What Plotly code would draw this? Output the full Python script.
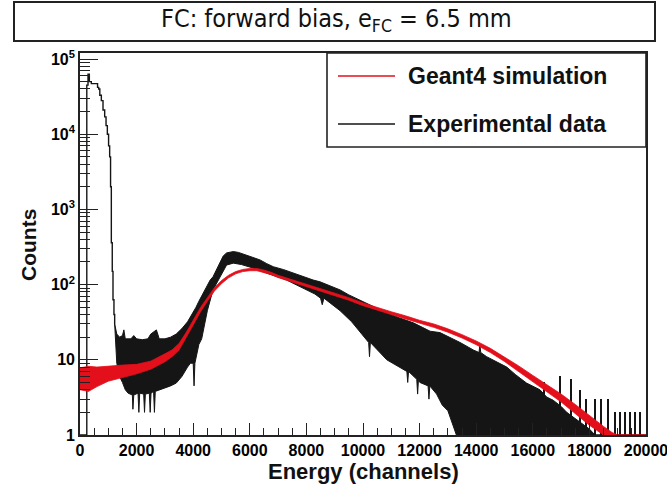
import plotly.graph_objects as go

# ---------------- data ----------------
# Experimental data: low-energy peak (single histogram line)
exp_peak_ch = [0, 200, 240, 283, 330, 400, 577, 620, 660, 700, 754, 813, 872, 920, 966, 1010, 1048, 1080, 1107, 1140, 1166, 1200, 1225]
exp_peak_counts = [1, 1, 45000, 63000, 50000, 47000, 47000, 42000, 40000, 33000, 28000, 21000, 17000, 13000, 10000, 7000, 5000, 2000, 360, 150, 63, 40, 30]

# Experimental data: noisy part, upper envelope
exp_hi_ch = [1225, 1260, 1300, 1400, 1500, 1550, 1600, 1800, 1900, 2000, 2200, 2400, 2500, 2700, 2800, 3000, 3200,
             3400, 3600, 3800, 3900, 4000, 4100, 4200, 4360, 4500, 4600, 4700, 4830, 4950, 5060, 5180, 5420, 5600,
             5890, 6100, 6360, 6600, 6830, 7200, 7540, 7900, 8240, 8480, 8760, 9190, 9500, 9890, 10300, 10840,
             11300, 11780, 12100, 12370, 12720, 13070, 13430, 13900, 14100, 14130, 14160, 14370, 14700, 15080, 15400,
             15780, 16250, 16490, 16720, 17000, 17200, 17670, 18000, 18200, 20000]
exp_hi = [30, 26, 22, 20, 21, 25, 19, 19, 21, 19, 18.5, 19, 22, 25, 19, 19, 20,
          22, 26, 32, 37, 42, 50, 60, 78, 100, 115, 127, 160, 200, 240, 264, 275, 268,
          247, 230, 213, 190, 173, 158, 142, 128, 115, 109, 99, 85, 73, 62, 52, 42,
          36, 31, 27, 24, 23, 20, 17, 13.5, 12.5, 16, 12.5, 11, 9.5, 8, 6.3,
          4.9, 4.0, 3.2, 2.9, 2.4, 2.0, 1.5, 1.2, 1.0, 1.0]

# Experimental data: noisy part, lower envelope
exp_lo_ch = [1225, 1300, 1400, 1500, 1600, 1700, 1850, 1870, 1900, 2050, 2080, 2110, 2250, 2280, 2310, 2450, 2480,
             2510, 2600, 2630, 2660, 2800, 3000, 3200, 3400, 3600, 3800, 3900, 4000, 4030, 4060, 4200, 4300, 4400,
             4500, 4700, 4950, 5180, 5420, 5700, 6120, 6600, 7300, 8000, 8300, 8500, 8560, 8620, 9190, 9600, 9890,
             10200, 10230, 10260, 10840, 11300, 11550, 11580, 11610, 11900, 11930, 11960, 12010, 12300, 12330, 12360,
             12600, 12800, 13000, 13300, 20000]
exp_lo = [30, 9, 6, 5, 4, 3.6, 3.4, 2.2, 3.4, 3.6, 2.0, 3.6, 3.5, 2.0, 3.5, 3.6, 2.0,
          3.6, 3.8, 2.0, 3.8, 4.0, 4.2, 4.5, 4.9, 6.0, 8.0, 9.0, 9.0, 4.5, 9.0, 16, 19, 30,
          45, 85, 127, 182, 193, 185, 166, 142, 115, 85, 75, 66, 54, 66, 45, 32, 24,
          17, 11, 17, 10, 8, 7, 5, 7, 5.5, 3.5, 5.5, 5, 4.5, 3, 4.5,
          3.5, 2.5, 2.1, 1, 1]

# Experimental data: isolated spikes in the high-energy tail
exp_spike_ch = [16400, 16960, 17370, 17670, 17900, 18200, 18430, 18670, 18900, 19080, 19260, 19430, 19610, 19790]
exp_spike_counts = [5, 6, 5.5, 4, 3, 3, 3, 3, 2, 2, 2, 2, 2, 2]

# Geant4 simulation: band (low / high edge of the noisy red line)
sim_ch = [0, 300, 600, 1000, 1500, 2000, 2500, 3000, 3250, 3500, 3750, 4000, 4250, 4500, 4750, 5000, 5250, 5500,
          5750, 6000, 6250, 6500, 6750, 7000, 7500, 8000, 8500, 9000, 9500, 10000, 10500, 11000, 11500, 12000,
          12500, 13000, 13500, 14000, 14500, 15000, 15500, 16000, 16500, 17000, 17500, 18000, 18500, 18800, 19000, 20000]
sim_lo = [4.0, 3.8, 4.4, 5.2, 5.8, 6.5, 7.5, 9.4, 11, 13.5, 20, 29, 43, 60, 82, 103, 123, 139,
          149, 153, 153, 146, 136, 124, 108, 94, 81, 71, 62, 52.5, 45.5, 40, 35, 30.5,
          27, 23.3, 19.5, 15.9, 12.5, 9.5, 7.0, 5.1, 3.75, 2.75, 1.95, 1.35, 1.0, 1.0, 1.0, 1.0]
sim_hi = [7.8, 8.2, 8.0, 8.3, 8.5, 8.7, 9.6, 12, 13.5, 16.5, 23, 33.5, 49, 67, 91, 113, 133, 149,
          159, 164, 164, 156, 146, 133, 116, 101, 88, 77, 67, 57, 49.5, 43.5, 38.5, 33.5,
          30, 25.8, 21.6, 17.8, 14.2, 11.0, 8.3, 6.2, 4.7, 3.5, 2.55, 1.8, 1.3, 1.08, 1.0, 1.0]

# Tick labels
x_tickvals = [0, 2000, 4000, 6000, 8000, 10000, 12000, 14000, 16000, 18000, 20000]
x_ticktext = ["0", "2000", "4000", "6000", "8000", "10000", "12000", "14000", "16000", "18000", "20000"]
y_tickvals = [1, 10, 100, 1000, 10000, 100000]
y_ticktext = ["1", "10", "10<sup>2</sup>", "10<sup>3</sup>", "10<sup>4</sup>", "10<sup>5</sup>"]

legend_labels = ["Geant4 simulation", "Experimental data"]
title_text = "FC: forward bias, e<sub>FC</sub> = 6.5 mm"

# ---------------- styling ----------------
RED = "#e3101c"
BLK = "#151515"
W, H = 667, 487
L, R, T, B = 80, 21, 53, 52
PW, PH = W - L - R, H - T - B


def px_x(p):
    return (p - L) / PW


def px_y(p):
    return (H - B - p) / PH


FONT = "Liberation Sans, Arial, sans-serif"

fig = go.Figure()

fig.add_trace(go.Scatter(x=exp_peak_ch, y=exp_peak_counts, mode="lines",
                         line=dict(color=BLK, width=1.4, shape="hv"), showlegend=False, hoverinfo="skip"))
fig.add_trace(go.Scatter(x=exp_hi_ch + exp_lo_ch[::-1], y=exp_hi + exp_lo[::-1], mode="lines",
                         fill="toself", fillcolor=BLK, line=dict(color=BLK, width=1),
                         showlegend=False, hoverinfo="skip"))
fig.add_trace(go.Bar(x=exp_spike_ch, y=exp_spike_counts, width=45,
                     marker=dict(color=BLK, line=dict(width=0)), showlegend=False, hoverinfo="skip"))
fig.add_trace(go.Scatter(x=sim_ch + sim_ch[::-1], y=sim_hi + sim_lo[::-1], mode="lines",
                         fill="toself", fillcolor=RED, line=dict(color=RED, width=0.8),
                         showlegend=False, hoverinfo="skip"))

minor_y = [m * 10 ** d for d in range(0, 5) for m in range(2, 10)]

fig.update_layout(
    width=W, height=H,
    margin=dict(l=L, r=R, t=T, b=B, autoexpand=False),
    paper_bgcolor="white", plot_bgcolor="white",
    showlegend=False,
    bargap=0,
    xaxis=dict(range=[0, 20000], tickmode="array", tickvals=x_tickvals, ticktext=x_ticktext,
               ticks="inside", ticklen=12, tickwidth=1.3, tickcolor="#222", ticklabeloverflow="allow",
               automargin=False,
               minor=dict(dtick=500, ticks="inside", ticklen=7, tickwidth=1.2, tickcolor="#222", showgrid=False),
               showline=True, linecolor="#222", linewidth=1.6, mirror=True,
               showgrid=False, zeroline=False,
               tickfont=dict(family=FONT, size=16, color="black", weight="bold")),
    yaxis=dict(type="log", range=[0, 5.08], tickmode="array", tickvals=y_tickvals, ticktext=y_ticktext,
               ticks="inside", ticklen=18, tickwidth=1.3, tickcolor="#222", automargin=False,
               minor=dict(tickmode="array", tickvals=minor_y, ticks="inside", ticklen=10, tickwidth=1.2,
                          tickcolor="#222", showgrid=False),
               showline=True, linecolor="#222", linewidth=1.6, mirror=True,
               showgrid=False, zeroline=False,
               tickfont=dict(family=FONT, size=16, color="black", weight="bold")),
)

shapes = [
    # title box
    dict(type="rect", xref="paper", yref="paper", x0=px_x(14), x1=px_x(655), y0=px_y(41), y1=px_y(2),
         line=dict(color="#222", width=2), fillcolor="white", layer="above"),
    # legend box
    dict(type="rect", xref="paper", yref="paper", x0=px_x(327), x1=px_x(646), y0=px_y(147), y1=px_y(53),
         line=dict(color="#222", width=1.6), fillcolor="white", layer="above"),
    dict(type="line", xref="paper", yref="paper", x0=px_x(338), x1=px_x(395), y0=px_y(76), y1=px_y(76),
         line=dict(color=RED, width=1.5), layer="above"),
    dict(type="line", xref="paper", yref="paper", x0=px_x(338), x1=px_x(395), y0=px_y(124), y1=px_y(124),
         line=dict(color=BLK, width=1.5), layer="above"),
]
fig.update_layout(shapes=shapes)

annotations = [
    dict(text=title_text, xref="paper", yref="paper", x=px_x(336), y=px_y(20), xanchor="center", yanchor="middle",
         showarrow=False, font=dict(family="DejaVu Sans Condensed, Liberation Sans", size=25, color="#111")),
    dict(text=legend_labels[0], xref="paper", yref="paper", x=px_x(406), y=px_y(76), xanchor="left", yanchor="middle",
         showarrow=False, font=dict(family=FONT, size=23, color="#111", weight="bold")),
    dict(text=legend_labels[1], xref="paper", yref="paper", x=px_x(406), y=px_y(124), xanchor="left", yanchor="middle",
         showarrow=False, font=dict(family=FONT, size=23, color="#111", weight="bold")),
    dict(text="Energy (channels)", xref="paper", yref="paper", x=px_x(363), y=px_y(471), xanchor="center",
         yanchor="middle", showarrow=False, font=dict(family=FONT, size=22, color="#111", weight="bold")),
    dict(text="Counts", xref="paper", yref="paper", x=px_x(28), y=px_y(245), xanchor="center",
         yanchor="middle", textangle=-90, showarrow=False, font=dict(family=FONT, size=21, color="#111", weight="bold")),
]
fig.update_layout(annotations=annotations)

fig.write_html("out.html")
